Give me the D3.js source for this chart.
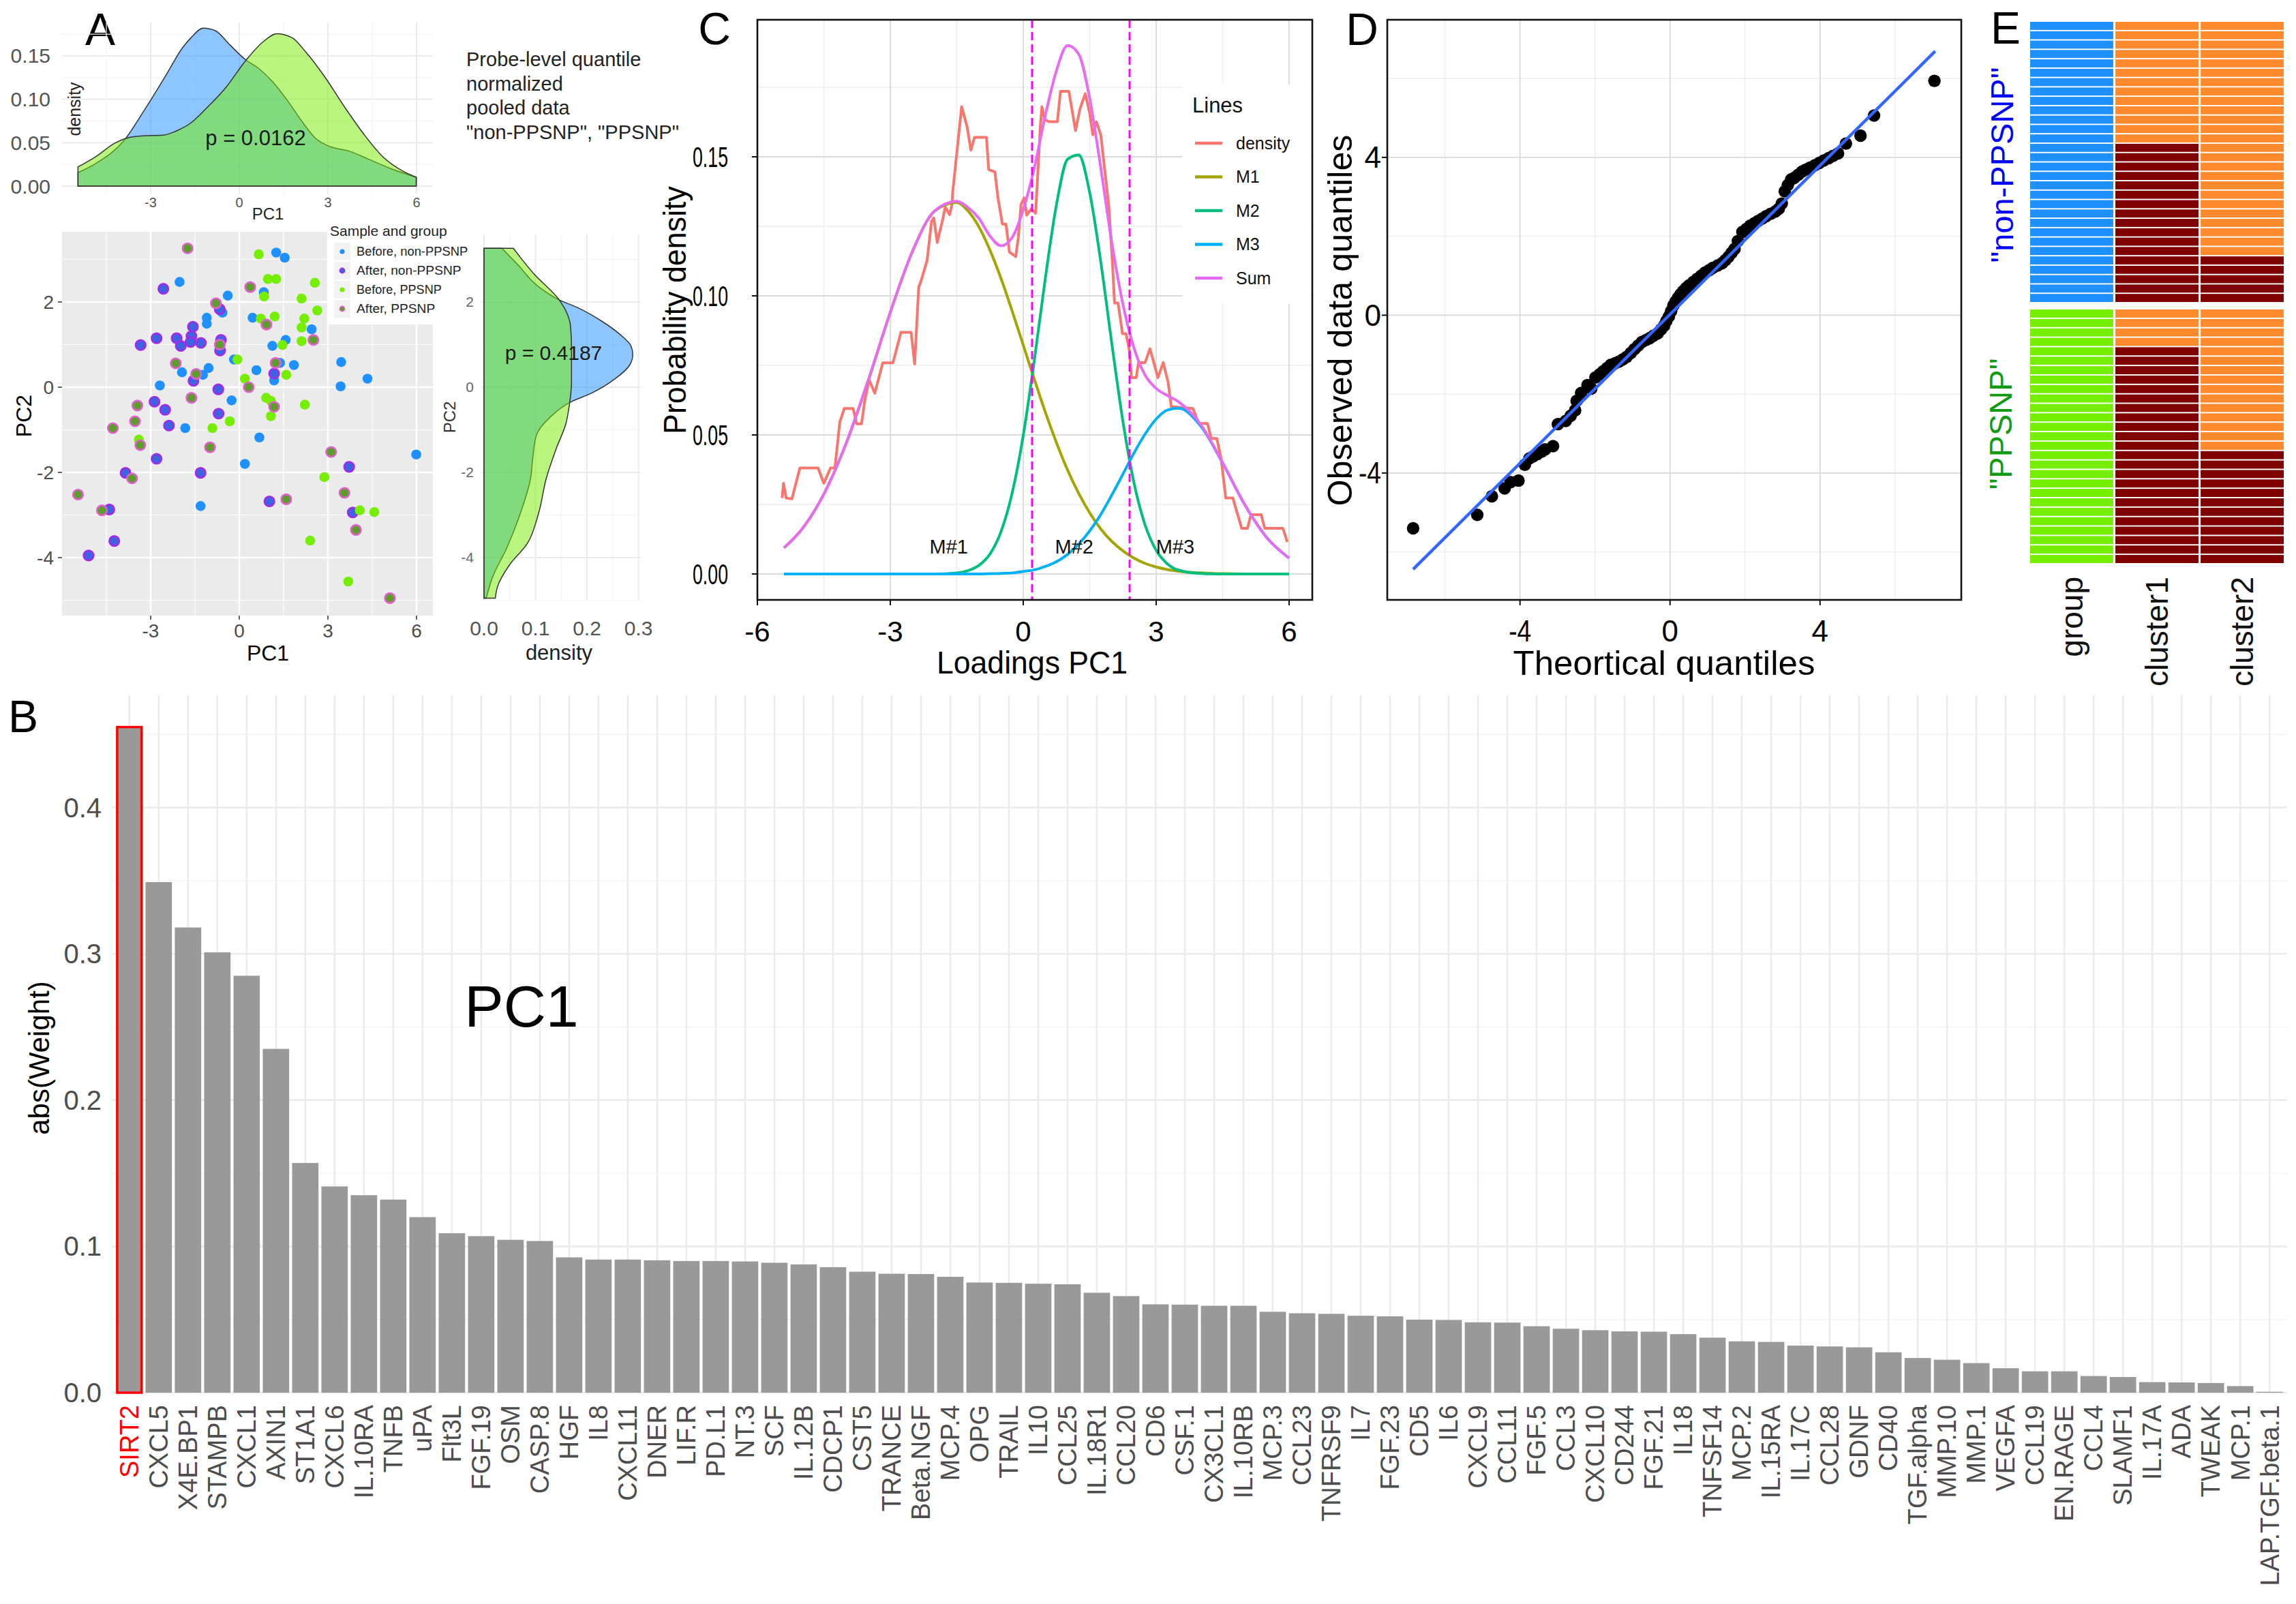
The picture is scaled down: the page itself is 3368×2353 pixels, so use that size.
<!DOCTYPE html>
<html><head><meta charset="utf-8">
<script src="https://cdn.jsdelivr.net/npm/d3@7"></script>
<style>body{margin:0;background:#fff}svg{display:block}text{font-family:"Liberation Sans",Arial,Helvetica,sans-serif}</style>
</head><body><svg id="fig" width="3368" height="2353"></svg>
<script>
// ================= DATA =================
// Panel B: PC1 loadings
const barCategories = ["SIRT2","CXCL5","X4E.BP1","STAMPB","CXCL1","AXIN1","ST1A1","CXCL6","IL.10RA","TNFB","uPA","Flt3L","FGF.19","OSM","CASP.8","HGF","IL8","CXCL11","DNER","LIF.R","PD.L1","NT.3","SCF","IL.12B","CDCP1","CST5","TRANCE","Beta.NGF","MCP.4","OPG","TRAIL","IL10","CCL25","IL.18R1","CCL20","CD6","CSF.1","CX3CL1","IL.10RB","MCP.3","CCL23","TNFRSF9","IL7","FGF.23","CD5","IL6","CXCL9","CCL11","FGF.5","CCL3","CXCL10","CD244","FGF.21","IL18","TNFSF14","MCP.2","IL.15RA","IL.17C","CCL28","GDNF","CD40","TGF.alpha","MMP.10","MMP.1","VEGFA","CCL19","EN.RAGE","CCL4","SLAMF1","IL.17A","ADA","TWEAK","MCP.1","LAP.TGF.beta.1"];
const barValues = [0.455,0.349,0.318,0.301,0.285,0.235,0.157,0.141,0.135,0.132,0.120,0.109,0.107,0.1045,0.1037,0.0925,0.091,0.091,0.0905,0.090,0.090,0.0897,0.0888,0.0877,0.0858,0.0827,0.0813,0.0811,0.0792,0.0753,0.0751,0.0745,0.0741,0.0683,0.066,0.0604,0.0602,0.0594,0.0594,0.0553,0.0543,0.0539,0.0526,0.0522,0.0499,0.0497,0.0481,0.0479,0.0454,0.0437,0.0427,0.0419,0.0417,0.040,0.0376,0.0351,0.0347,0.0322,0.0316,0.031,0.0276,0.0237,0.0225,0.0202,0.0167,0.0146,0.0146,0.0114,0.0107,0.0072,0.007,0.0066,0.0045,0.0006];
const barYTicks = [0,0.1,0.2,0.3,0.4];
const highlightGene = "SIRT2";

// Panel A: PCA scores (PC1, PC2)
const groupLabels = ["Before, non-PPSNP","After, non-PPSNP","Before, PPSNP","After, PPSNP"];
const beforeNonPPSNP = [[1.25,3.16],[1.54,3.04],[-2.02,2.47],[-0.39,2.15],[0.83,2.23],[0.45,1.63],[-1.10,1.63],[-1.10,1.49],[2.45,1.36],[1.57,1.11],[1.12,0.97],[-0.57,1.75],[-0.18,0.65],[1.38,0.57],[1.85,0.52],[3.45,0.59],[4.34,0.20],[-1.94,0.35],[-1.23,0.29],[-1.04,0.45],[0.58,0.40],[1.18,0.16],[-2.69,0.04],[3.43,0.02],[-0.26,-0.31],[-1.83,-0.96],[0.68,-1.18],[5.99,-1.58],[0.19,-1.80],[-1.31,-2.79]];
const afterNonPPSNP = [[-2.57,2.31],[-0.66,1.83],[-1.57,1.42],[-3.34,0.99],[-2.80,1.15],[-2.12,1.15],[-1.98,0.97],[-1.62,1.20],[-1.65,1.06],[-1.30,1.04],[-0.62,1.11],[-0.65,0.86],[1.18,0.32],[-1.55,0.15],[-0.71,-0.05],[-2.87,-0.34],[-2.51,-0.53],[-2.38,-0.90],[-0.70,-0.62],[-2.80,-1.68],[-3.85,-2.01],[-1.31,-2.01],[3.72,-1.87],[-4.40,-2.87],[1.02,-2.68],[3.84,-2.94],[-4.23,-3.61],[-5.10,-3.95]];
const beforePPSNP = [[0.66,3.12],[0.97,2.54],[1.25,2.54],[0.84,2.13],[2.56,2.45],[2.11,2.08],[2.64,1.80],[2.20,1.61],[2.11,1.40],[1.20,1.66],[0.73,1.61],[2.11,1.08],[1.46,0.99],[-0.06,0.65],[0.19,0.20],[0.91,-0.25],[1.07,-0.32],[2.22,-0.41],[1.59,0.29],[1.07,-0.68],[-0.32,-0.80],[-0.91,-0.96],[-3.40,-1.23],[2.88,-2.11],[4.08,-2.89],[4.57,-2.93],[2.40,-3.60],[3.69,-4.56]];
const afterPPSNP = [[-1.75,3.26],[0.37,2.35],[-0.79,1.97],[0.92,1.47],[2.51,1.11],[-0.66,1.00],[-2.15,0.56],[-1.46,0.31],[0.32,0.00],[1.23,0.57],[-1.62,-0.25],[1.18,-0.46],[-3.45,-0.43],[-3.53,-0.80],[-4.28,-0.96],[-3.35,-1.36],[-0.99,-1.41],[3.11,-1.52],[-3.63,-2.14],[-5.46,-2.52],[-4.65,-2.89],[1.59,-2.63],[3.56,-2.48],[3.95,-3.35],[5.10,-4.95]];
// marginal densities: PC1 (x, density)
const pc1DensNonPPSNP = [[-5.46,0.0155],[-4.86,0.026],[-3.89,0.053],[-3.24,0.086],[-2.43,0.1306],[-1.95,0.158],[-1.63,0.171],[-1.22,0.182],[-0.81,0.179],[-0.33,0.163],[0.23,0.145],[0.64,0.136],[1.13,0.120],[1.62,0.099],[2.10,0.0756],[2.59,0.0547],[3.07,0.0455],[3.72,0.0403],[4.37,0.0311],[5.18,0.0194],[5.99,0.0102]];
const pc1DensPPSNP = [[-5.46,0.022],[-4.86,0.0338],[-4.21,0.0495],[-3.73,0.056],[-3.24,0.0578],[-2.59,0.0586],[-2.11,0.0638],[-1.63,0.073],[-1.14,0.0887],[-0.49,0.112],[0.23,0.145],[0.80,0.166],[1.28,0.1755],[1.78,0.171],[2.26,0.154],[2.91,0.125],[3.56,0.0913],[4.21,0.060],[4.86,0.0338],[5.50,0.018],[5.99,0.0102]];
// PC2 (pc2, density)
const pc2DensNonPPSNP = [[3.26,0.035],[2.87,0.066],[2.36,0.106],[2.05,0.146],[1.85,0.185],[1.54,0.23],[1.23,0.265],[0.98,0.285],[0.77,0.289],[0.52,0.283],[0.21,0.256],[-0.15,0.207],[-0.35,0.168],[-0.71,0.128],[-1.12,0.102],[-1.63,0.095],[-2.14,0.0905],[-2.96,0.0706],[-3.78,0.044],[-4.49,0.0155],[-4.95,0.0044]];
const pc2DensPPSNP = [[3.26,0.057],[2.66,0.097],[2.05,0.146],[1.74,0.161],[1.44,0.168],[0.93,0.170],[0.11,0.170],[-0.40,0.166],[-0.86,0.159],[-1.42,0.141],[-2.14,0.121],[-2.96,0.106],[-3.67,0.084],[-4.18,0.049],[-4.69,0.026],[-4.95,0.022]];
const pValuePC1 = "p = 0.0162";
const pValuePC2 = "p = 0.4187";
const noteLines = ["Probe-level quantile","normalized","pooled data","\"non-PPSNP\", \"PPSNP\""];

// Panel C: mixture model of PC1 loadings
const mixX = [-5.4,-5,-4.5,-4,-3.5,-3,-2.5,-2,-1.5,-1.25,-1,-0.75,-0.5,-0.25,0,0.25,0.5,0.75,1,1.25,1.5,1.75,2,2.25,2.5,2.75,3,3.25,3.5,4,4.5,5,5.5,6];
const mixM1 = [0.0094,0.0160,0.0287,0.0468,0.0695,0.0941,0.116,0.1305,0.1336,0.1306,0.1248,0.1164,0.1062,0.0945,0.0823,0.0700,0.0581,0.0472,0.0374,0.0290,0.0220,0.0162,0.0117,0.0083,0.0057,0.0038,0.0025,0.0016,0.0010,0.0004,0.0001,0,0,0];
const mixM2 = [0,0,0,0,0,0,0,0,0.0004,0.0012,0.0031,0.0072,0.0153,0.0291,0.0498,0.0768,0.1065,0.1328,0.1491,0.1507,0.1371,0.1122,0.0827,0.0548,0.0327,0.0176,0.0085,0.0037,0.0014,0.0002,0,0,0,0];
const mixM3 = [0,0,0,0,0,0,0,0,0,0,0,0.0001,0.0002,0.0004,0.0009,0.0015,0.0027,0.0044,0.0070,0.0107,0.0155,0.0214,0.0284,0.0359,0.0435,0.0503,0.0557,0.0589,0.0596,0.0533,0.0399,0.0249,0.0130,0.0057];
const mixSum = [0.0094,0.0160,0.0287,0.0468,0.0695,0.0941,0.116,0.1305,0.1340,0.1318,0.1279,0.1215,0.1180,0.1210,0.1310,0.1460,0.1650,0.1810,0.1900,0.1870,0.1710,0.1460,0.1190,0.0970,0.0812,0.0715,0.0667,0.0642,0.0620,0.0539,0.0400,0.0249,0.0130,0.0057];
const densX = [-5.44,-5.41,-5.35,-5.22,-5.04,-4.63,-4.50,-4.35,-4.25,-4.14,-4.04,-3.84,-3.76,-3.65,-3.58,-3.48,-3.35,-3.17,-2.94,-2.76,-2.53,-2.45,-2.36,-2.30,-2.17,-2.07,-2.02,-1.94,-1.81,-1.76,-1.66,-1.61,-1.59,-1.39,-1.27,-1.18,-1.10,-0.83,-0.78,-0.64,-0.57,-0.47,-0.39,-0.31,-0.17,-0.11,-0.05,0.02,0.08,0.18,0.28,0.38,0.42,0.49,0.59,0.77,0.84,1.03,1.18,1.28,1.40,1.50,1.57,1.65,1.75,1.93,2.01,2.06,2.14,2.24,2.32,2.40,2.44,2.55,2.60,2.75,2.86,3.04,3.16,3.27,3.34,3.83,3.96,4.16,4.24,4.37,4.47,4.57,4.73,4.93,5.06,5.14,5.37,5.45,5.86,5.96];
const densY = [0.0273,0.0326,0.0273,0.027,0.0381,0.0381,0.0326,0.0381,0.0381,0.0545,0.0595,0.0595,0.054,0.054,0.0619,0.0698,0.065,0.0759,0.0759,0.0869,0.0869,0.0755,0.103,0.1057,0.1127,0.1267,0.128,0.1192,0.128,0.1319,0.1292,0.1328,0.1376,0.168,0.161,0.1524,0.157,0.157,0.1454,0.1446,0.1352,0.1258,0.1258,0.1157,0.1141,0.1211,0.1328,0.1352,0.129,0.1313,0.1297,0.1594,0.168,0.1633,0.1626,0.1626,0.1735,0.1735,0.1594,0.1672,0.1727,0.1657,0.1579,0.1626,0.1579,0.1323,0.1127,0.0974,0.0974,0.0864,0.0864,0.0799,0.0706,0.0706,0.076,0.076,0.081,0.0706,0.076,0.0689,0.0602,0.0595,0.0541,0.0541,0.0487,0.0487,0.041,0.0273,0.0273,0.0164,0.0164,0.0213,0.0213,0.0164,0.0164,0.0115];
const cutoffs = [0.2, 2.4];
const mLabels = ["M#1","M#2","M#3"];
const mLabelX = [-1.68, 1.15, 3.43];
const mLabelY = 0.0098;
const lineNames = ["density","M1","M2","M3","Sum"];
const lineColors = ["#F8766D","#A3A500","#00BF7D","#00B0F6","#E76BF3"];

// Panel D: QQ plot
const qqTheo = [-6.85,-5.14,-4.75,-4.41,-4.25,-4.04,-3.87,-3.75,-3.65,-3.54,-3.43,-3.33,-3.12,-2.99,-2.78,-2.65,-2.53,-2.49,-2.37,-2.20,-2.10,-1.99,-1.88,-1.78,-1.68,-1.58,-1.47,-1.37,-1.26,-1.16,-1.05,-0.95,-0.85,-0.75,-0.64,-0.54,-0.44,-0.33,-0.24,-0.16,-0.10,-0.03,0.03,0.09,0.15,0.22,0.28,0.35,0.43,0.51,0.62,0.72,0.83,0.93,1.04,1.14,1.27,1.39,1.48,1.56,1.64,1.72,1.81,1.93,2.04,2.14,2.25,2.35,2.46,2.56,2.68,2.81,2.90,2.98,3.06,3.14,3.23,3.31,3.42,3.52,3.62,3.73,3.86,3.98,4.10,4.23,4.35,4.48,4.69,5.08,5.44,7.05];
const qqObs = [-5.40,-5.06,-4.59,-4.39,-4.23,-4.19,-3.79,-3.63,-3.58,-3.52,-3.46,-3.40,-3.32,-2.76,-2.68,-2.55,-2.41,-2.17,-1.97,-1.77,-1.86,-1.58,-1.50,-1.42,-1.34,-1.26,-1.22,-1.18,-1.12,-1.06,-0.96,-0.86,-0.77,-0.68,-0.63,-0.58,-0.52,-0.46,-0.36,-0.27,-0.15,-0.03,0.10,0.25,0.35,0.45,0.53,0.61,0.69,0.76,0.84,0.92,1.00,1.08,1.14,1.20,1.26,1.32,1.40,1.48,1.58,1.68,1.88,2.11,2.19,2.27,2.33,2.39,2.45,2.51,2.57,2.63,2.70,2.83,3.14,3.30,3.44,3.48,3.56,3.64,3.69,3.74,3.80,3.86,3.92,3.98,4.04,4.10,4.35,4.55,5.06,5.94];
const qqLineX = [-6.85, 7.07];
const qqLineY = [-6.44, 6.69];

// Panel E: cluster assignments per sample
const eColumns = ["group","cluster1","cluster2"];
const eGroups = ["non-PPSNP","PPSNP"];
const eGroupSizes = [30, 27];
const eCluster1 = ["111111111111122222222222222222", "111122222222222222222222222"];
const eCluster2 = ["111111111111111111111111122222", "111111111111111222222222222"];

// ================= DRAW =================
const svg = d3.select("#fig");
svg.append("rect").attr("width",3368).attr("height",2353).attr("fill","#fff");
const num = v => (Math.abs(v) < 1e-9 ? "0" : String(v));

function text(g, x, y, s, o = {}) {
  const t = g.append("text").attr("x", x).attr("y", y).text(s)
    .attr("font-size", o.size || 30).attr("fill", o.fill || "#000")
    .attr("text-anchor", o.anchor || "start");
  if (o.dy) t.attr("dy", o.dy);
  if (o.rotate) t.attr("transform", `rotate(${o.rotate},${x},${y})`);
  if (o.len) t.attr("textLength", o.len).attr("lengthAdjust", "spacingAndGlyphs");
  if (o.weight) t.attr("font-weight", o.weight);
  return t;
}
function hline(g, y, x0, x1, c, w) { g.append("line").attr("x1",x0).attr("x2",x1).attr("y1",y).attr("y2",y).attr("stroke",c).attr("stroke-width",w); }
function vline(g, x, y0, y1, c, w) { g.append("line").attr("x1",x).attr("x2",x).attr("y1",y0).attr("y2",y1).attr("stroke",c).attr("stroke-width",w); }

// ---------- Panel letters ----------
[["A",147,42],["B",34,1050],["C",1048,41],["D",1998,42],["E",2942,40]].forEach(([l,x,y]) =>
  text(svg, x, y, l, {size: 66, anchor: "middle", dy: "0.36em"}));

// ---------- Panel B ----------
{
  const g = svg.append("g");
  const xB = d3.scaleBand().domain(barCategories).range([164, 3355]).paddingInner(0.1).paddingOuter(0.15);
  const yB = d3.scaleLinear().domain([0, 0.4767]).range([2043, 1020]);
  const [bBot, bTop] = yB.range();
  yB.ticks(10).forEach(t => {
    const major = barYTicks.some(m => Math.abs(m - t) < 1e-9);
    hline(g, yB(t), 164, 3355, major ? "#ebebeb" : "#f4f4f4", major ? 2.5 : 1.4);
  });
  barCategories.forEach(c => vline(g, xB(c) + xB.bandwidth()/2, bTop, bBot, "#ebebeb", 2.5));
  g.selectAll("rect.bar").data(barCategories).enter().append("rect").attr("class","bar")
    .attr("x", c => xB(c)).attr("width", xB.bandwidth())
    .attr("y", (c,i) => yB(barValues[i])).attr("height", (c,i) => bBot - yB(barValues[i]))
    .attr("fill", "#999999");
  const hi = barCategories.indexOf(highlightGene);
  g.append("rect").attr("x", xB(highlightGene)+1.5).attr("width", xB.bandwidth()-3)
    .attr("y", yB(barValues[hi])).attr("height", bBot - yB(barValues[hi]))
    .attr("fill","none").attr("stroke","#ff0000").attr("stroke-width",3.5);
  barCategories.forEach(c => {
    const cx = xB(c) + xB.bandwidth()/2;
    g.append("text").text(c).attr("transform", `translate(${cx},2061) rotate(-90)`)
      .attr("text-anchor","end").attr("dy","0.35em").attr("font-size",38)
      .attr("fill", c === highlightGene ? "#ff0000" : "#4d4d4d");
  });
  barYTicks.forEach(t => text(g, 149, yB(t), t.toFixed(1), {size: 40, anchor: "end", dy: "0.35em", fill: "#4d4d4d"}));
  text(g, 57, 1552, "abs(Weight)", {size: 42, anchor: "middle", rotate: -90, dy: "0.35em"});
  text(g, 765, 1475, "PC1", {size: 86, anchor: "middle", dy: "0.36em"});
}

// ---------- Panel A ----------
const xA = d3.scaleLinear().domain([-3, 3]).range([221, 481]);
const yA = d3.scaleLinear().domain([0, 2]).range([568, 443]);
{
  // top marginal density
  const g = svg.append("g");
  const yT = d3.scaleLinear().domain([0, 0.05]).range([273, 209.3]);
  const px0 = 91, px1 = 635, py0 = 33, py1 = 285;
  [0.025,0.075,0.125,0.175].forEach(t => hline(g, yT(t), px0, px1, "#f3f3f3", 1.2));
  [0,0.05,0.10,0.15].forEach(t => hline(g, yT(t), px0, px1, "#ebebeb", 2));
  [-4.5,-1.5,1.5,4.5].forEach(t => vline(g, xA(t), py0, py1, "#f3f3f3", 1.2));
  [-3,0,3,6].forEach(t => vline(g, xA(t), py0, py1, "#ebebeb", 2));
  const area = d3.area().x(d => xA(d[0])).y0(yT(0)).y1(d => yT(d[1])).curve(d3.curveMonotoneX);
  g.append("path").attr("d", area(pc1DensNonPPSNP)).attr("fill","#1E90FF").attr("fill-opacity",0.5).attr("stroke","#333").attr("stroke-width",1.5);
  g.append("path").attr("d", area(pc1DensPPSNP)).attr("fill","#76EE00").attr("fill-opacity",0.5).attr("stroke","#333").attr("stroke-width",1.5);
  [0,0.05,0.10,0.15].forEach(t => text(g, 74, yT(t), t.toFixed(2), {size: 30, anchor: "end", dy: "0.35em", fill: "#555"}));
  text(g, 109, 160, "density", {size: 25, anchor: "middle", rotate: -90, dy: "0.35em", fill: "#222"});
  [-3,0,3,6].forEach(t => text(g, xA(t), 297, num(t), {size: 20, anchor: "middle", dy: "0.35em", fill: "#555"}));
  text(g, 393, 314, "PC1", {size: 24, anchor: "middle", dy: "0.35em", fill: "#222"});
  text(g, 375, 202, pValuePC1, {size: 31, anchor: "middle", dy: "0.35em", fill: "#1a1a1a"});
  noteLines.forEach((s, i) => text(svg, 684, 97 + i*35.5, s, {size: 29, fill: "#222"}));
}
{
  // scatter
  const g = svg.append("g");
  const px0 = 91, px1 = 635, py0 = 340, py1 = 903;
  g.append("rect").attr("x",px0).attr("y",py0).attr("width",px1-px0).attr("height",py1-py0).attr("fill","#EBEBEB");
  [-4.5,-1.5,1.5,4.5].forEach(t => vline(g, xA(t), py0, py1, "#fff", 1.2));
  [-5,-3,-1,1,3].forEach(t => hline(g, yA(t), px0, px1, "#fff", 1.2));
  [-3,0,3,6].forEach(t => vline(g, xA(t), py0, py1, "#fff", 2.4));
  [-4,-2,0,2].forEach(t => hline(g, yA(t), px0, px1, "#fff", 2.4));
  const lg = svg.append("g");
  lg.append("rect").attr("x",481).attr("y",326).attr("width",160).attr("height",150).attr("fill","#fff");
  const styles = [
    {fill:"#1E90FF", stroke:"none", sw:0},
    {fill:"#3F63E0", stroke:"#A12BE8", sw:2.6},
    {fill:"#76EE00", stroke:"none", sw:0},
    {fill:"#5E9C2C", stroke:"#E260CC", sw:2.6}];
  [beforeNonPPSNP, afterNonPPSNP, beforePPSNP, afterPPSNP].forEach((arr, k) => {
    g.selectAll(null).data(arr).enter().append("circle")
      .attr("cx", d => xA(d[0])).attr("cy", d => yA(d[1])).attr("r", 7.3)
      .attr("fill", styles[k].fill).attr("stroke", styles[k].stroke).attr("stroke-width", styles[k].sw);
  });
  svg.node().appendChild(lg.node());
  text(lg, 484, 339, "Sample and group", {size: 21, dy: "0.35em", fill: "#222"});
  groupLabels.forEach((s, k) => {
    const cy = 369 + k*28;
    lg.append("rect").attr("x",490).attr("y",cy-13).attr("width",24).attr("height",26).attr("fill","#f2f2f2");
    lg.append("circle").attr("cx",502).attr("cy",cy).attr("r",3.6).attr("fill",styles[k].fill)
      .attr("stroke",styles[k].stroke).attr("stroke-width",styles[k].sw ? 1.6 : 0);
    text(lg, 523, cy, s, {size: 18, dy: "0.35em", fill: "#222", len: s.length * 9.6});
  });
  [-3,0,3,6].forEach(t => { vline(g, xA(t), py1, py1+6, "#333", 1.5); text(g, xA(t), 925, num(t), {size: 28, anchor: "middle", dy: "0.35em", fill: "#4d4d4d"}); });
  [-4,-2,0,2].forEach(t => { hline(g, yA(t), px0-6, px0, "#333", 1.5); text(g, 79, yA(t), num(t), {size: 28, anchor: "end", dy: "0.35em", fill: "#4d4d4d"}); });
  text(g, 393, 958, "PC1", {size: 32, anchor: "middle", dy: "0.35em"});
  text(g, 35, 610, "PC2", {size: 32, anchor: "middle", rotate: -90, dy: "0.35em"});
}
{
  // right marginal density
  const g = svg.append("g");
  const xR = d3.scaleLinear().domain([0, 0.1]).range([710, 785.5]);
  const px0 = 706, px1 = 940, py0 = 344, py1 = 880;
  [0.05,0.15,0.25].forEach(t => vline(g, xR(t), py0, py1, "#f3f3f3", 1.2));
  [0,0.1,0.2,0.3].forEach(t => vline(g, xR(t), py0, py1, "#ebebeb", 2));
  [-5,-3,-1,1,3].forEach(t => hline(g, yA(t), px0, px1, "#f3f3f3", 1.2));
  [-4,-2,0,2].forEach(t => hline(g, yA(t), px0, px1, "#ebebeb", 2));
  const area = d3.area().y(d => yA(d[0])).x0(xR(0)).x1(d => xR(d[1])).curve(d3.curveMonotoneY);
  g.append("path").attr("d", area(pc2DensNonPPSNP)).attr("fill","#1E90FF").attr("fill-opacity",0.5).attr("stroke","#333").attr("stroke-width",1.5);
  g.append("path").attr("d", area(pc2DensPPSNP)).attr("fill","#76EE00").attr("fill-opacity",0.5).attr("stroke","#333").attr("stroke-width",1.5);
  [-4,-2,0,2].forEach(t => text(g, 695, yA(t), num(t), {size: 21, anchor: "end", dy: "0.35em", fill: "#666"}));
  text(g, 660, 612, "PC2", {size: 24, anchor: "middle", rotate: -90, dy: "0.35em", fill: "#333"});
  [0,0.1,0.2,0.3].forEach(t => text(g, xR(t), 921, t.toFixed(1), {size: 30, anchor: "middle", dy: "0.35em", fill: "#555"}));
  text(g, 820, 957, "density", {size: 31, anchor: "middle", dy: "0.35em", fill: "#222"});
  text(g, 812, 517, pValuePC2, {size: 30, anchor: "middle", dy: "0.35em", fill: "#1a1a1a"});
}

// ---------- Panel C ----------
{
  const g = svg.append("g");
  const xC = d3.scaleLinear().domain([-3, 3]).range([1306, 1696]);
  const yC = d3.scaleLinear().domain([0, 0.05]).range([842, 638]);
  const px0 = 1111, px1 = 1925, py0 = 29, py1 = 880;
  [-4.5,-1.5,1.5,4.5].forEach(t => vline(g, xC(t), py0, py1, "#ececec", 1.3));
  [0.025,0.075,0.125,0.175].forEach(t => hline(g, yC(t), px0, px1, "#ececec", 1.3));
  [-6,-3,0,3,6].forEach(t => vline(g, xC(t), py0, py1, "#dadada", 1.8));
  [0,0.05,0.10,0.15].forEach(t => hline(g, yC(t), px0, px1, "#dadada", 1.8));
  const line = d3.line().x(d => xC(d[0])).y(d => yC(d[1]));
  const smooth = d3.line().x(d => xC(d[0])).y(d => yC(d[1])).curve(d3.curveMonotoneX);
  g.append("path").attr("d", line(densX.map((x,i) => [x, densY[i]]))).attr("fill","none").attr("stroke",lineColors[0]).attr("stroke-width",4).attr("stroke-linejoin","round");
  [mixM1, mixM2, mixM3, mixSum].forEach((arr, k) => {
    g.append("path").attr("d", smooth(mixX.map((x,i) => [x, arr[i]]))).attr("fill","none")
      .attr("stroke", lineColors[k+1]).attr("stroke-width", 4);
  });
  cutoffs.forEach(c => g.append("line").attr("x1",xC(c)).attr("x2",xC(c)).attr("y1",py0).attr("y2",py1)
    .attr("stroke","#FF00FF").attr("stroke-width",3).attr("stroke-dasharray","12,6"));
  mLabels.forEach((s,i) => text(g, xC(mLabelX[i]), yC(mLabelY), s, {size: 29, anchor: "middle", dy: "0.35em", fill: "#111"}));
  g.append("rect").attr("x",1734).attr("y",124).attr("width",189).attr("height",322).attr("fill","#fff");
  text(g, 1749, 154, "Lines", {size: 31, dy: "0.35em", fill: "#111"});
  lineNames.forEach((s,k) => {
    const cy = 210 + k*49.5;
    g.append("line").attr("x1",1753).attr("x2",1793).attr("y1",cy).attr("y2",cy).attr("stroke",lineColors[k]).attr("stroke-width",4.5);
    text(g, 1813, cy, s, {size: 25, dy: "0.35em", fill: "#111"});
  });
  g.append("rect").attr("x",px0).attr("y",py0).attr("width",px1-px0).attr("height",py1-py0).attr("fill","none").attr("stroke","#111").attr("stroke-width",2.6);
  [0,0.05,0.10,0.15].forEach(t => { hline(g, yC(t), px0-8, px0, "#111", 2); text(g, 1068, yC(t), t.toFixed(2), {size: 42, anchor: "end", dy: "0.35em", len: 52}); });
  [-6,-3,0,3,6].forEach(t => { vline(g, xC(t), py1, py1+8, "#111", 2); text(g, xC(t), 926, num(t), {size: 42, anchor: "middle", dy: "0.35em"}); });
  text(g, 990, 455, "Probability density", {size: 46, anchor: "middle", rotate: -90, dy: "0.35em", len: 364});
  text(g, 1514, 972, "Loadings PC1", {size: 46, anchor: "middle", dy: "0.35em", len: 280});
}

// ---------- Panel D ----------
{
  const g = svg.append("g");
  const xD = d3.scaleLinear().domain([-4, 4]).range([2229.7, 2669.8]);
  const yD = d3.scaleLinear().domain([-4, 4]).range([693.9, 230.9]);
  const px0 = 2035, px1 = 2877, py0 = 29, py1 = 880;
  [-6,-2,2,6].forEach(t => { vline(g, xD(t), py0, py1, "#ececec", 1.3); hline(g, yD(t), px0, px1, "#ececec", 1.3); });
  [-4,0,4].forEach(t => { vline(g, xD(t), py0, py1, "#dadada", 1.8); hline(g, yD(t), px0, px1, "#dadada", 1.8); });
  g.selectAll(null).data(qqTheo).enter().append("circle")
    .attr("cx", d => xD(d)).attr("cy", (d,i) => yD(qqObs[i])).attr("r", 9.2).attr("fill", "#000");
  g.append("line").attr("x1", xD(qqLineX[0])).attr("y1", yD(qqLineY[0])).attr("x2", xD(qqLineX[1])).attr("y2", yD(qqLineY[1]))
    .attr("stroke", "#3366FF").attr("stroke-width", 4.5);
  g.append("rect").attr("x",px0).attr("y",py0).attr("width",px1-px0).attr("height",py1-py0).attr("fill","none").attr("stroke","#111").attr("stroke-width",2.6);
  [-4,0,4].forEach(t => {
    const o = t < 0 ? {len: 33} : {};
    hline(g, yD(t), px0-8, px0, "#111", 2); text(g, 2026, yD(t), num(t), Object.assign({size: 44, anchor: "end", dy: "0.35em"}, o));
    vline(g, xD(t), py1, py1+8, "#111", 2); text(g, xD(t), 926, num(t), Object.assign({size: 44, anchor: "middle", dy: "0.35em"}, o));
  });
  text(g, 1965, 470, "Observed data quantiles", {size: 50, anchor: "middle", rotate: -90, dy: "0.35em", len: 545});
  text(g, 2441, 972, "Theortical quantiles", {size: 50, anchor: "middle", dy: "0.35em", len: 443});
}

// ---------- Panel E ----------
{
  const g = svg.append("g");
  const xE = d3.scaleBand().domain(eColumns).range([2978, 3350]).paddingInner(0.025);
  const blocks = [[32, 443], [454, 826]];
  const groupColors = {"non-PPSNP": "#1E90FF", "PPSNP": "#76EE00"};
  const clusterColors = {"1": "#FF8A2E", "2": "#7F0000"};
  eGroups.forEach((grp, b) => {
    const rows = d3.range(eGroupSizes[b]);
    const yE = d3.scaleBand().domain(rows).range(blocks[b]).paddingInner(0.14);
    rows.forEach(r => {
      const cols = [groupColors[grp], clusterColors[eCluster1[b][r]], clusterColors[eCluster2[b][r]]];
      eColumns.forEach((c, j) => g.append("rect").attr("x", xE(c)).attr("width", xE.bandwidth())
        .attr("y", yE(r)).attr("height", yE.bandwidth()).attr("fill", cols[j]));
    });
  });
  eColumns.forEach(c => g.append("text").text(c)
    .attr("transform", `translate(${xE(c) + xE.bandwidth()/2},846) rotate(-90)`)
    .attr("text-anchor","end").attr("dy","0.35em").attr("font-size",46).attr("fill","#111"));
  text(g, 2937, 242, "\"non-PPSNP\"", {size: 47, anchor: "middle", rotate: -90, dy: "0.35em", fill: "#0000FF"});
  text(g, 2935, 622, "\"PPSNP\"", {size: 47, anchor: "middle", rotate: -90, dy: "0.35em", fill: "#129A12"});
}
</script></body></html>
